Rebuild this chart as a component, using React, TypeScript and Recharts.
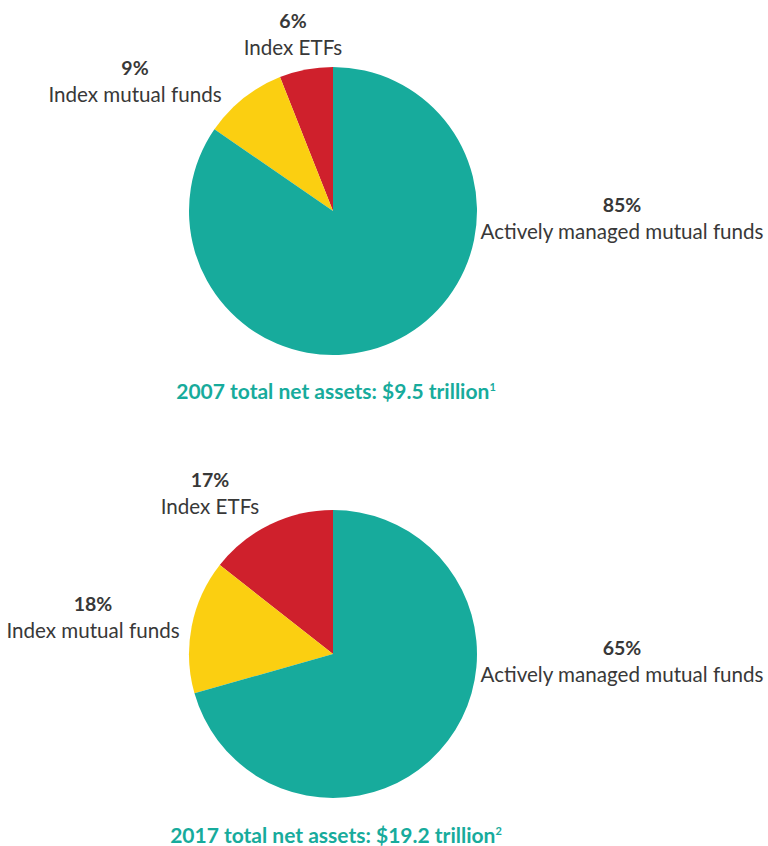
import { PieChart, Pie, Cell } from 'recharts';

// slice order: Index ETFs, Index mutual funds, Actively managed mutual funds
const categories = ['Index ETFs', 'Index mutual funds', 'Actively managed mutual funds'];
const labels2007 = ['6%', '9%', '85%'];
const labels2017 = ['17%', '18%', '65%'];
// slice sizes as drawn in the picture
const values2007 = [6, 9.4, 84.6];
const values2017 = [14.4, 15, 70.6];
const colors = ['#CF202C', '#FBCF11', '#17AB9C'];

const title2007 = '2007 total net assets: $9.5 trillion';
const title2017 = '2017 total net assets: $19.2 trillion';

const data2007 = categories.map((name, i) => ({ name, value: values2007[i] }));
const data2017 = categories.map((name, i) => ({ name, value: values2017[i] }));

const W = 768;
const H = 846;
const FONT = 'Lato, "Open Sans", sans-serif';
const TEXT = '#383838';

// label anchors (center x, baseline of the percent line)
const labelPos2007 = [
  { x: 293, y: 28 },
  { x: 135, y: 75 },
  { x: 622, y: 212 },
];
const labelPos2017 = [
  { x: 210, y: 487 },
  { x: 93, y: 611 },
  { x: 622, y: 655 },
];

function Label({ x, y, pct, name }: { x: number; y: number; pct: string; name: string }) {
  return (
    <g>
      <text x={x} y={y} textAnchor="middle" fontSize={19.5} fontWeight={700} fill={TEXT}>
        {pct}
      </text>
      <text x={x} y={y + 27} textAnchor="middle" fontSize={20.6} fill={TEXT}>
        {name}
      </text>
    </g>
  );
}

export default function App() {
  return (
    <div style={{ position: 'absolute', left: 0, top: 0, width: W, height: H, background: '#fff', fontFamily: FONT }}>
      <PieChart width={W} height={H} margin={{ top: 0, right: 0, bottom: 0, left: 0 }}>
        <Pie
          data={data2007}
          dataKey="value"
          cx={333}
          cy={211}
          outerRadius={144}
          startAngle={90}
          endAngle={450}
          stroke="none"
          isAnimationActive={false}
        >
          {data2007.map((d, i) => (
            <Cell key={d.name} fill={colors[i]} />
          ))}
        </Pie>
        <Pie
          data={data2017}
          dataKey="value"
          cx={333}
          cy={654}
          outerRadius={144}
          startAngle={90}
          endAngle={450}
          stroke="none"
          isAnimationActive={false}
        >
          {data2017.map((d, i) => (
            <Cell key={d.name} fill={colors[i]} />
          ))}
        </Pie>
      </PieChart>
      <svg width={W} height={H} style={{ position: 'absolute', left: 0, top: 0, fontFamily: FONT }}>
        {categories.map((name, i) => (
          <Label key={'a' + i} x={labelPos2007[i].x} y={labelPos2007[i].y} pct={labels2007[i]} name={name} />
        ))}
        {categories.map((name, i) => (
          <Label key={'b' + i} x={labelPos2017[i].x} y={labelPos2017[i].y} pct={labels2017[i]} name={name} />
        ))}
        <text x={336} y={399} textAnchor="middle" fontSize={21} fontWeight={700} fill={colors[2]}>
          {title2007}
          <tspan fontSize={11} dy={-8}>1</tspan>
        </text>
        <text x={336} y={843} textAnchor="middle" fontSize={21} fontWeight={700} fill={colors[2]}>
          {title2017}
          <tspan fontSize={11} dy={-8}>2</tspan>
        </text>
      </svg>
    </div>
  );
}
